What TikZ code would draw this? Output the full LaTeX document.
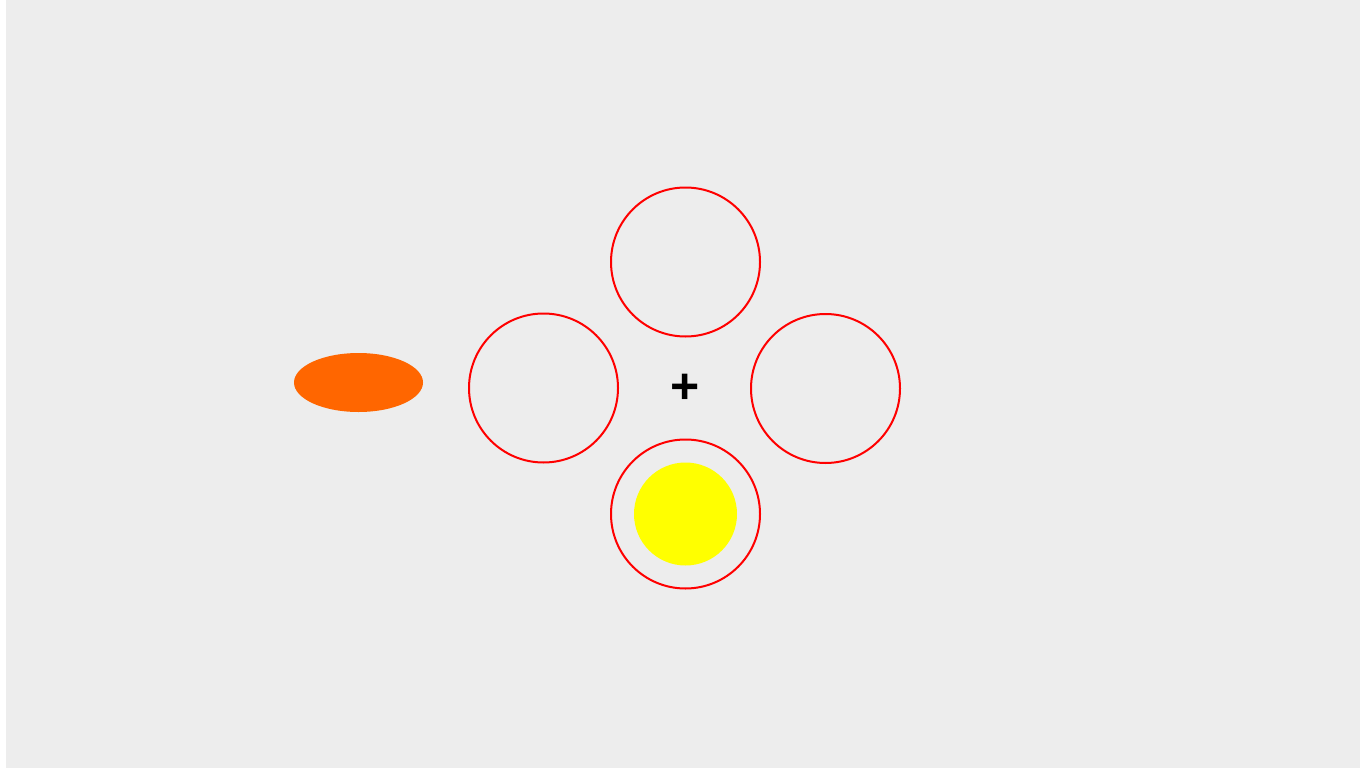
\documentclass[tikz,border=0pt]{standalone}
\usepackage{fontspec}
\setmainfont{Liberation Sans}
\usetikzlibrary{shapes.geometric}
\definecolor{bg}{HTML}{EDEDED}
\definecolor{ring}{HTML}{FF0000}
\definecolor{orangefill}{HTML}{FF6600}
\definecolor{yellowfill}{HTML}{FFFF00}
\begin{document}
\begin{tikzpicture}[x=1pt,y=-1pt,
  ringstyle/.style={circle,draw=ring,line width=2pt,minimum size=149pt,inner sep=0pt},
  dotstyle/.style={circle,fill=yellowfill,minimum size=103pt,inner sep=0pt},
  blobstyle/.style={ellipse,fill=orangefill,minimum width=129pt,minimum height=59pt,inner sep=0pt},
  crossstyle/.style={font=\bfseries\fontsize{50}{50}\selectfont,inner sep=0pt}]
\useasboundingbox (0,0) rectangle (1360,768);
\fill[white] (0,0) rectangle (1360,768);
\fill[bg] (6,0) rectangle (1360,768);
\node[ringstyle] (top) at (685.5,262) {};
\node[ringstyle] (left) at (543.5,388) {};
\node[ringstyle] (right) at (825.5,388.5) {};
\node[ringstyle] (bottom) at (685.5,514) {};
\node[dotstyle] (dot) at (685.5,514) {};
\node[blobstyle] (blob) at (358.5,382.5) {};
\node[crossstyle] (plus) at (685.5,389) {+};
\end{tikzpicture}
\end{document}
